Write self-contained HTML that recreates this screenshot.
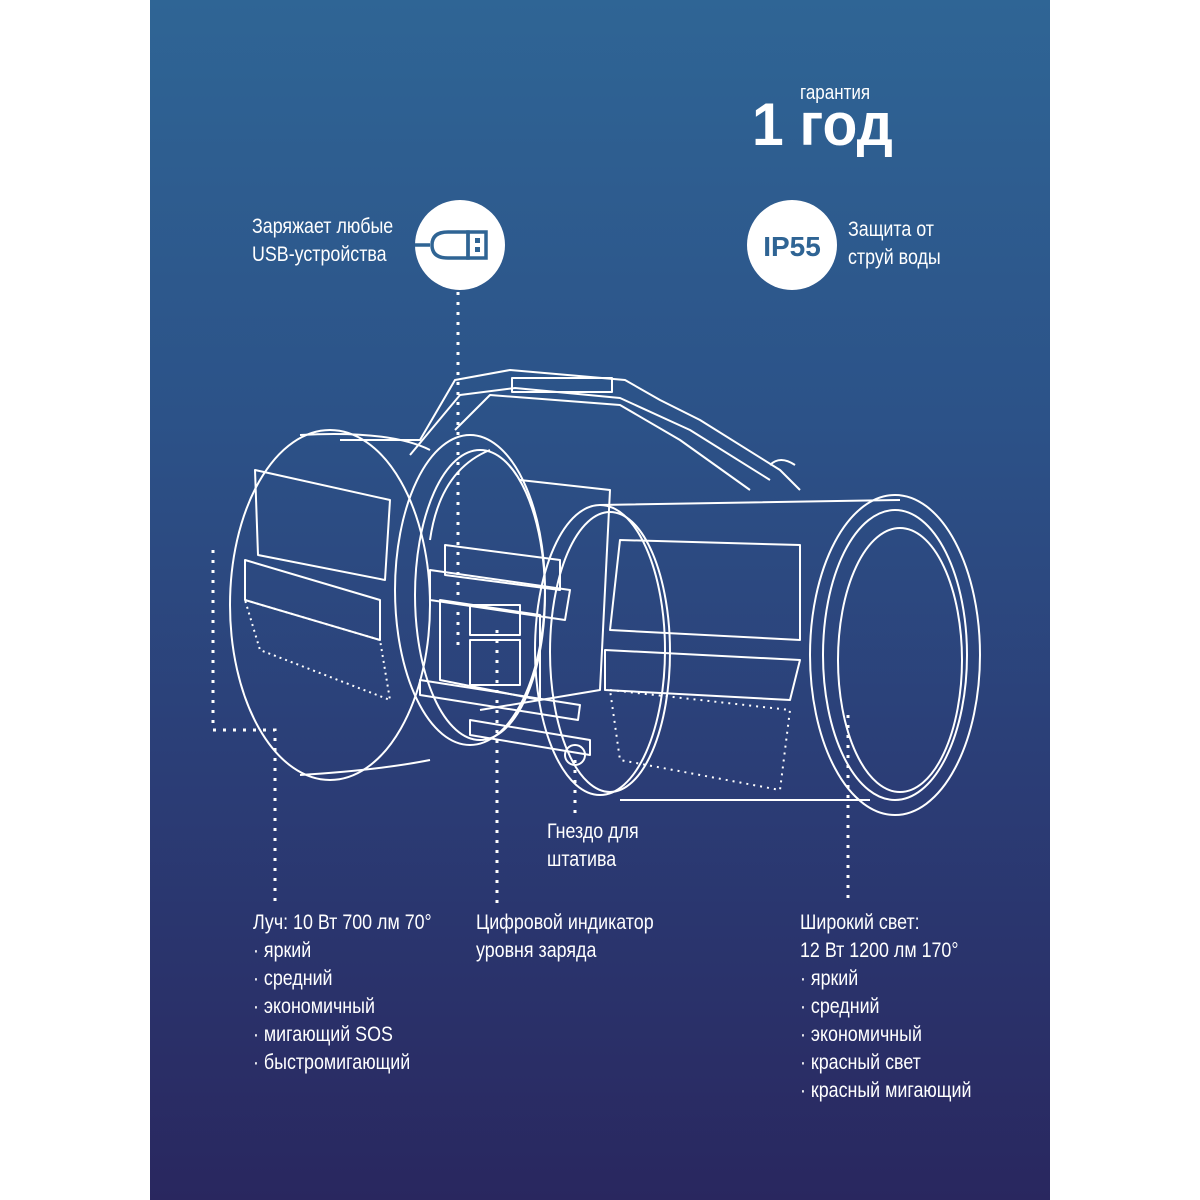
<!DOCTYPE html>
<html><head><meta charset="utf-8"><style>
html,body{margin:0;padding:0;background:#fff;}
#p{position:absolute;left:150px;top:0;width:900px;height:1200px;background:linear-gradient(180deg,#2f6595 0%,#2c5288 35%,#2b3d76 65%,#29275f 100%);}
.t{position:absolute;color:#fff;font-family:"Liberation Sans",sans-serif;font-size:21px;line-height:28px;white-space:nowrap;transform:scaleX(0.85);transform-origin:left top;}
</style></head><body>
<div id="p"></div>
<svg width="1200" height="1200" style="position:absolute;left:0;top:0">
<g fill="none" stroke="#fff" stroke-width="3" stroke-dasharray="3 7">
<path d="M458 292V650"/><path d="M213 550V730H275V905"/><path d="M497 630V905"/><path d="M575 760V815"/><path d="M848 715V905"/>
</g>
<circle cx="460" cy="245" r="45" fill="#fff"/>
<g fill="none" stroke="#2f6494" stroke-width="3.5"><path d="M415 245H430M468 232H448Q432 232 432 245Q432 258 448 258H468Z"/><rect x="468" y="232" width="18" height="26"/></g>
<rect x="475" y="238" width="5" height="5" fill="#2f6494"/><rect x="475" y="247" width="5" height="5" fill="#2f6494"/>
<circle cx="792" cy="245" r="45" fill="#fff"/>
<text x="792" y="256" text-anchor="middle" font-family="Liberation Sans" font-weight="bold" font-size="28" fill="#2f6494">IP55</text>
<g fill="none" stroke="#fff" stroke-width="2" stroke-linejoin="round">
<path d="M340 440L420 440L455 380L510 370L625 380L660 400L700 420L780 470L800 490"/>
<path d="M410 455L460 395L515 388L620 398L690 430L770 480"/>
<path d="M455 430L490 395L620 405L680 440L750 490"/>
<rect x="512" y="378" width="100" height="14"/>
<path d="M770 465Q780 455 795 465"/>
<ellipse cx="330" cy="605" rx="100" ry="175"/>
<path d="M300 435Q390 430 430 450M300 775Q380 770 430 760"/>
<path d="M255 470L390 500L385 580L258 555Z"/>
<path d="M245 560L380 600L380 640L245 600Z"/>
<path d="M245 600L380 640L390 700L260 650Z" stroke-dasharray="2 4"/>
<ellipse cx="470" cy="590" rx="75" ry="155"/>
<ellipse cx="480" cy="595" rx="65" ry="145"/>
<path d="M430 540Q440 470 490 450"/>
<path d="M520 480L610 490L600 690L480 710"/>
<path d="M430 570L570 590L565 620L430 600Z"/>
<path d="M445 545L560 560L560 590L445 575Z"/>
<path d="M440 600L540 615L540 700L440 680Z"/>
<rect x="470" y="605" width="50" height="30"/><rect x="470" y="640" width="50" height="45"/>
<path d="M420 680L580 705L578 720L420 695Z"/>
<path d="M470 720L590 740L590 755L470 735Z"/>
<circle cx="575" cy="755" r="10"/>
<ellipse cx="600" cy="650" rx="65" ry="145"/>
<ellipse cx="610" cy="652" rx="60" ry="140"/>
<path d="M600 505L900 500M620 800L870 800"/>
<path d="M620 540L800 545L800 640L610 630Z"/>
<path d="M605 650L800 660L790 700L605 690Z"/>
<path d="M610 690L790 710L780 790L620 760Z" stroke-dasharray="2 5"/>
<ellipse cx="895" cy="655" rx="85" ry="160"/>
<ellipse cx="895" cy="655" rx="72" ry="145"/>
<ellipse cx="900" cy="660" rx="62" ry="132"/>
</g>
</svg>
<div class="t" style="left:800px;top:79px;font-size:20px">гарантия</div>
<div class="t" style="left:752px;top:95px;font-size:60px;line-height:60px;font-weight:bold;transform:scaleX(0.95)">1 год</div>
<div class="t" style="left:252px;top:213px">Заряжает любые<br>USB-устройства</div>
<div class="t" style="left:848px;top:216px">Защита от<br>струй воды</div>
<div class="t" style="left:547px;top:818px">Гнездо для<br>штатива</div>
<div class="t" style="left:253px;top:909px">Луч: 10 Вт 700 лм 70°<br>· яркий<br>· средний<br>· экономичный<br>· мигающий SOS<br>· быстромигающий</div>
<div class="t" style="left:476px;top:909px">Цифровой индикатор<br>уровня заряда</div>
<div class="t" style="left:800px;top:909px">Широкий свет:<br>12 Вт 1200 лм 170°<br>· яркий<br>· средний<br>· экономичный<br>· красный свет<br>· красный мигающий</div>
</body></html>
